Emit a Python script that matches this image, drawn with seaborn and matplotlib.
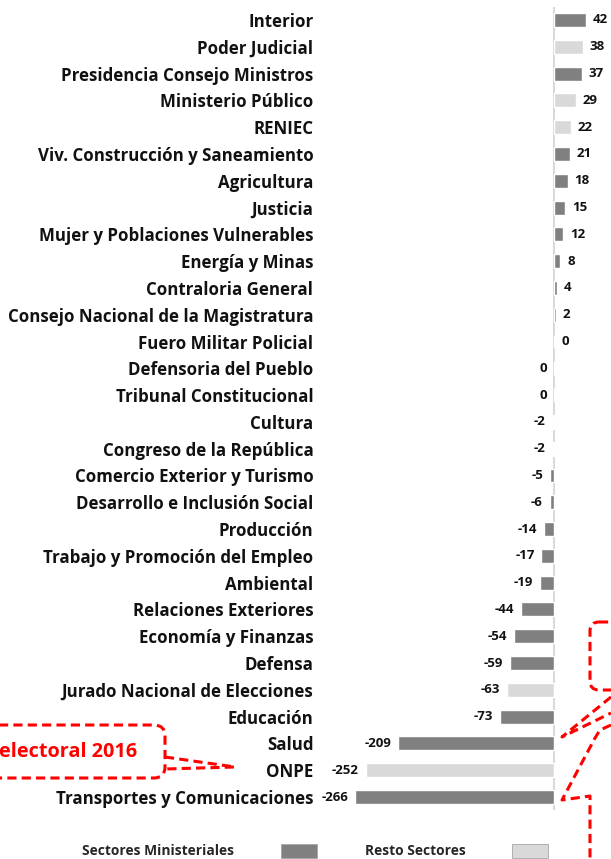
import matplotlib
matplotlib.use("Agg")
import matplotlib.pyplot as plt
import seaborn as sns
import pandas as pd
from matplotlib.patches import Patch, FancyBboxPatch

categories = ["Interior", "Poder Judicial", "Presidencia Consejo Ministros", "Ministerio Público",
              "RENIEC", "Viv. Construcción y Saneamiento", "Agricultura", "Justicia",
              "Mujer y Poblaciones Vulnerables", "Energía y Minas", "Contraloria General",
              "Consejo Nacional de la Magistratura", "Fuero Militar Policial", "Defensoria del Pueblo",
              "Tribunal Constitucional", "Cultura", "Congreso de la República",
              "Comercio Exterior y Turismo", "Desarrollo e Inclusión Social", "Producción",
              "Trabajo y Promoción del Empleo", "Ambiental", "Relaciones Exteriores",
              "Economía y Finanzas", "Defensa", "Jurado Nacional de Elecciones", "Educación",
              "Salud", "ONPE", "Transportes y Comunicaciones"]
values = [42, 38, 37, 29, 22, 21, 18, 15, 12, 8, 4, 2, 0.3, -0.2, -0.2, -2, -2, -5, -6, -14,
          -17, -19, -44, -54, -59, -63, -73, -209, -252, -266]
groups = ["M", "R", "M", "R", "R", "M", "M", "M", "M", "M", "M", "M", "M", "R", "R", "R", "R",
          "M", "M", "M", "M", "M", "M", "M", "M", "R", "M", "M", "R", "M"]
group_names = {"M": "Sectores Ministeriales", "R": "Resto Sectores"}
group_colors = {"Sectores Ministeriales": "#808080", "Resto Sectores": "#d9d9d9"}

df = pd.DataFrame({"cat": categories, "val": values, "grp": [group_names[g] for g in groups]})

sns.set_theme(style="white")
plt.rcParams["font.family"] = ["Open Sans", "DejaVu Sans"]

W, H = 611, 859
fig = plt.figure(figsize=(W / 100, H / 100), dpi=100)
x0, x1 = 330, 611
y_top, y_bot = 6.6, 810.4
ax = fig.add_axes([x0 / W, 1 - y_bot / H, (x1 - x0) / W, (y_bot - y_top) / H])

sns.barplot(data=df, x="val", y="cat", hue="grp", palette=group_colors, order=categories,
            hue_order=list(group_colors), dodge=False, width=0.52, orient="h",
            legend=False, ax=ax, saturation=1)

ax.set_xlim(-300, 76)
ax.set_ylim(len(categories) - 0.5, -0.5)
ax.axvline(0, color="#d9d9d9", lw=1.5, zorder=0)
for s in ax.spines.values():
    s.set_visible(False)
ax.set_xticks([])
ax.set_xlabel("")
ax.set_ylabel("")
ax.tick_params(axis="y", length=0, pad=12, labelsize=12.2)
for t in ax.get_yticklabels():
    t.set_fontweight("bold")
    t.set_color("#111111")

for c in ax.containers:
    labs = []
    for v in c.datavalues:
        labs.append("" if pd.isna(v) else f"{round(v):d}")
    ax.bar_label(c, labels=labs, padding=5, fontsize=9.5, fontweight="bold", color="#111111")

# legend
handles = [Patch(facecolor=group_colors[k], edgecolor="#a6a6a6", lw=0.6) for k in group_colors]
fig.legend(handles, list(group_colors), loc="center left", bbox_to_anchor=(82 / W, 8 / H),
           ncol=2, frameon=False, markerfirst=False, prop={"weight": "bold", "size": 9.9},
           handlelength=2.6, handleheight=1.25, handletextpad=3.4, columnspacing=3.5,
           borderpad=0, borderaxespad=0)

# callout overlay (pixel coordinates)
ov = fig.add_axes([0, 0, 1, 1], zorder=5)
ov.set_xlim(0, W)
ov.set_ylim(H, 0)
ov.axis("off")
ov.patch.set_alpha(0)
red = "#ff0000"
lw = 2.2
dash = (3, 1.7)

def dline(xs, ys):
    ov.plot(xs, ys, color=red, lw=lw, dashes=dash, solid_capstyle="butt", clip_on=False)

def rbox(x, y, w, h, r):
    p = FancyBboxPatch((x, y), w, h, boxstyle=f"round,pad=0,rounding_size={r}",
                       fill=False, ec=red, lw=lw, linestyle=(0, dash))
    ov.add_patch(p)

rbox(-40, 725, 205, 53, 11)
dline([165, 235, 165], [757, 767, 769])
ov.text(-1, 752, "electoral 2016", color=red, fontsize=14.3, fontweight="bold",
        ha="left", va="center")

rbox(590, 622, 60, 68, 9)
dline([611, 562, 611], [697, 737, 713])
dline([611, 600, 595, 562, 590, 590], [725, 730, 738, 800, 796, 859])

fig.savefig("out.png", dpi=100)
